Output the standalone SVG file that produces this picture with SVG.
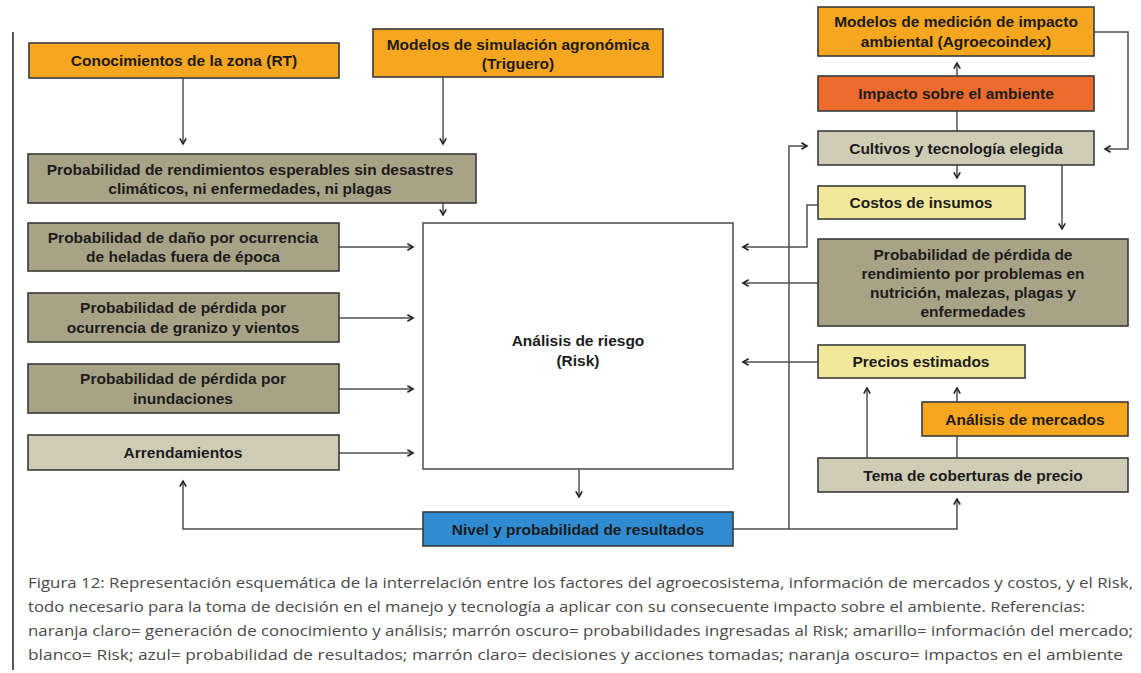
<svg xmlns="http://www.w3.org/2000/svg" width="1141" height="673" viewBox="0 0 1141 673">
  <style>
    .box { stroke: #3a3a3a; stroke-width: 1.6; }
    .orange { fill: #F7A620; }
    .dark { fill: #A8A287; }
    .light { fill: #CFCCB6; }
    .yellow { fill: #F2E89C; }
    .red { fill: #EE6B2E; }
    .blue { fill: #2F8CD2; }
    .white { fill: #FFFFFF; stroke: #555; }
    .lbl { font-family: "Liberation Sans", Arial, sans-serif; font-weight: bold; font-size: 15.5px; fill: #1c1c1c; text-anchor: middle; }
    .wire { fill: none; stroke: #505050; stroke-width: 1.5; }
    .cap { font-family: "Open Sans", "Liberation Sans", sans-serif; font-size: 15px; fill: #4a4a4a; }
  </style>
  <defs>
    <marker id="arr" viewBox="0 0 10 10" refX="8" refY="5" markerWidth="8" markerHeight="8" markerUnits="userSpaceOnUse" orient="auto">
      <path d="M1,1 L8,5 L1,9" fill="none" stroke="#222" stroke-width="2"/>
    </marker>
  </defs>

  <rect width="1141" height="673" fill="#FFFFFF"/>
  <!-- page margin rule -->
  <line x1="13" y1="32" x2="13" y2="670" stroke="#222" stroke-width="1.5"/>

  <g id="connectors">
    <!-- inputs to yield probability -->
    <line class="wire" x1="183" y1="78" x2="183" y2="144" marker-end="url(#arr)"/>
    <line class="wire" x1="443" y1="77" x2="443" y2="144" marker-end="url(#arr)"/>
    <line class="wire" x1="443" y1="203" x2="443" y2="215" marker-end="url(#arr)"/>
    <!-- left probabilities into Risk -->
    <line class="wire" x1="339" y1="247" x2="413" y2="247" marker-end="url(#arr)"/>
    <line class="wire" x1="339" y1="318" x2="413" y2="318" marker-end="url(#arr)"/>
    <line class="wire" x1="339" y1="389" x2="413" y2="389" marker-end="url(#arr)"/>
    <line class="wire" x1="339" y1="453" x2="413" y2="453" marker-end="url(#arr)"/>
    <!-- Risk to results -->
    <line class="wire" x1="579" y1="469" x2="579" y2="497" marker-end="url(#arr)"/>
    <!-- results back to leases -->
    <polyline class="wire" points="423,529 183,529 183,481" marker-end="url(#arr)"/>
    <!-- results to crops and to price hedging -->
    <polyline class="wire" points="733,529 957,529 957,499" marker-end="url(#arr)"/>
    <polyline class="wire" points="789,529 789,146 807,146" marker-end="url(#arr)"/>
    <!-- crops to environmental impact -->
    <line class="wire" x1="957" y1="131" x2="957" y2="111"/>
    <line class="wire" x1="957" y1="76" x2="957" y2="63" marker-end="url(#arr)"/>
    <!-- impact models back to crops -->
    <polyline class="wire" points="1094,32 1128,32 1128,149 1105,149" marker-end="url(#arr)"/>
    <!-- crops to costs and to yield-loss -->
    <line class="wire" x1="957" y1="165" x2="957" y2="178" marker-end="url(#arr)"/>
    <line class="wire" x1="1062" y1="165" x2="1062" y2="229" marker-end="url(#arr)"/>
    <!-- right side into Risk -->
    <polyline class="wire" points="818,205 807,205 807,247 743,247" marker-end="url(#arr)"/>
    <line class="wire" x1="818" y1="283" x2="743" y2="283" marker-end="url(#arr)"/>
    <line class="wire" x1="818" y1="362" x2="743" y2="362" marker-end="url(#arr)"/>
    <!-- hedging and markets to prices -->
    <line class="wire" x1="867" y1="458" x2="867" y2="388" marker-end="url(#arr)"/>
    <line class="wire" x1="957" y1="458" x2="957" y2="436"/>
    <line class="wire" x1="957" y1="402" x2="957" y2="388" marker-end="url(#arr)"/>
  </g>

  <g id="conocimientos">
    <rect class="box orange" x="29" y="43" width="310" height="35"/>
    <text class="lbl" x="184" y="66">Conocimientos de la zona (RT)</text>
  </g>
  <g id="modelos-simulacion">
    <rect class="box orange" x="373" y="29" width="290" height="48"/>
    <text class="lbl" x="518" y="50">Modelos de simulación agronómica</text>
    <text class="lbl" x="518" y="69">(Triguero)</text>
  </g>
  <g id="prob-rendimientos">
    <rect class="box dark" x="28" y="154" width="448" height="49"/>
    <text class="lbl" x="250" y="175">Probabilidad de rendimientos esperables sin desastres</text>
    <text class="lbl" x="250" y="194">climáticos, ni enfermedades, ni plagas</text>
  </g>
  <g id="prob-heladas">
    <rect class="box dark" x="28" y="223" width="311" height="48"/>
    <text class="lbl" x="183" y="243">Probabilidad de daño por ocurrencia</text>
    <text class="lbl" x="183" y="262">de heladas fuera de época</text>
  </g>
  <g id="prob-granizo">
    <rect class="box dark" x="28" y="293" width="311" height="49"/>
    <text class="lbl" x="183" y="313">Probabilidad de pérdida por</text>
    <text class="lbl" x="183" y="333">ocurrencia de granizo y vientos</text>
  </g>
  <g id="prob-inundaciones">
    <rect class="box dark" x="28" y="364" width="311" height="49"/>
    <text class="lbl" x="183" y="384">Probabilidad de pérdida por</text>
    <text class="lbl" x="183" y="404">inundaciones</text>
  </g>
  <g id="arrendamientos">
    <rect class="box light" x="28" y="435" width="311" height="35"/>
    <text class="lbl" x="183" y="458">Arrendamientos</text>
  </g>
  <g id="risk">
    <rect class="box white" x="423" y="223" width="310" height="246"/>
    <text class="lbl" x="578" y="346">Análisis de riesgo</text>
    <text class="lbl" x="578" y="366">(Risk)</text>
  </g>
  <g id="resultados">
    <rect class="box blue" x="423" y="512" width="310" height="34"/>
    <text class="lbl" x="578" y="535">Nivel y probabilidad de resultados</text>
  </g>
  <g id="modelos-impacto">
    <rect class="box orange" x="818" y="7" width="276" height="49"/>
    <text class="lbl" x="956" y="27">Modelos de medición de impacto</text>
    <text class="lbl" x="956" y="47">ambiental (Agroecoindex)</text>
  </g>
  <g id="impacto">
    <rect class="box red" x="818" y="76" width="276" height="35"/>
    <text class="lbl" x="956" y="99">Impacto sobre el ambiente</text>
  </g>
  <g id="cultivos">
    <rect class="box light" x="818" y="131" width="276" height="34"/>
    <text class="lbl" x="956" y="154">Cultivos y tecnología elegida</text>
  </g>
  <g id="costos">
    <rect class="box yellow" x="818" y="186" width="207" height="33"/>
    <text class="lbl" x="921" y="208">Costos de insumos</text>
  </g>
  <g id="prob-perdida-rendimiento">
    <rect class="box dark" x="818" y="239" width="310" height="87"/>
    <text class="lbl" x="973" y="260">Probabilidad de pérdida de</text>
    <text class="lbl" x="973" y="279">rendimiento por problemas en</text>
    <text class="lbl" x="973" y="298">nutrición, malezas, plagas y</text>
    <text class="lbl" x="973" y="317">enfermedades</text>
  </g>
  <g id="precios">
    <rect class="box yellow" x="818" y="345" width="207" height="33"/>
    <text class="lbl" x="921" y="367">Precios estimados</text>
  </g>
  <g id="mercados">
    <rect class="box orange" x="922" y="402" width="206" height="34"/>
    <text class="lbl" x="1025" y="425">Análisis de mercados</text>
  </g>
  <g id="coberturas">
    <rect class="box light" x="818" y="458" width="310" height="34"/>
    <text class="lbl" x="973" y="481">Tema de coberturas de precio</text>
  </g>

  <!-- caption -->
  <g id="caption">
    <text class="cap" x="28" y="588" textLength="1105" lengthAdjust="spacingAndGlyphs">Figura 12: Representación esquemática de la interrelación entre los factores del agroecosistema, información de mercados y costos, y el Risk,</text>
    <text class="cap" x="28" y="612" textLength="1057" lengthAdjust="spacingAndGlyphs">todo necesario para la toma de decisión en el manejo y tecnología a aplicar con su consecuente impacto sobre el ambiente. Referencias:</text>
    <text class="cap" x="28" y="636" textLength="1105" lengthAdjust="spacingAndGlyphs">naranja claro= generación de conocimiento y análisis; marrón oscuro= probabilidades ingresadas al Risk; amarillo= información del mercado;</text>
    <text class="cap" x="28" y="660" textLength="1095" lengthAdjust="spacingAndGlyphs">blanco= Risk; azul= probabilidad de resultados; marrón claro= decisiones y acciones tomadas; naranja oscuro= impactos en el ambiente</text>
  </g>
</svg>
